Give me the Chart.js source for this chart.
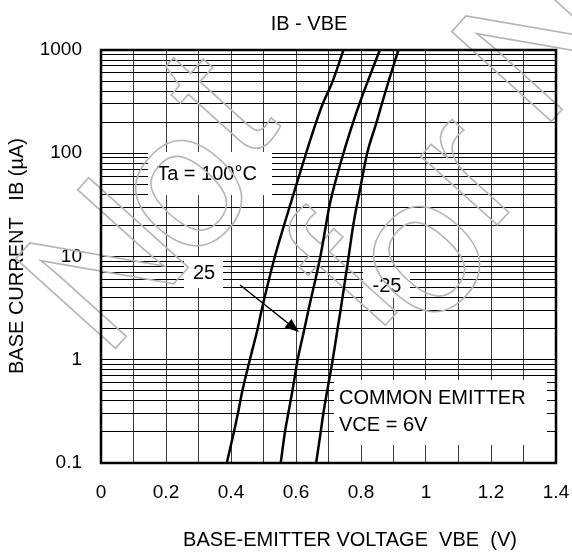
<!DOCTYPE html>
<html>
<head>
<meta charset="utf-8">
<script src="https://cdn.jsdelivr.net/npm/chart.js@4.4.1/dist/chart.umd.min.js"></script>
<style>
html,body{margin:0;padding:0;background:#fff;}
canvas{display:block;}
</style>
</head>
<body>
<canvas id="c" width="572" height="552"></canvas>
<script>
// ---- data ----
const ibValues = [0.1, 0.2, 0.3, 0.5, 1, 2, 3, 10, 20, 30, 40, 100, 200, 300, 500, 1000];   // IB (uA)
const vbeTa100 = [0.387, 0.409, 0.421, 0.435, 0.458, 0.482, 0.494, 0.535, 0.563, 0.580, 0.592, 0.631, 0.662, 0.682, 0.713, 0.746];
const vbeTa25  = [0.553, 0.566, 0.576, 0.589, 0.605, 0.626, 0.638, 0.675, 0.692, 0.702, 0.711, 0.746, 0.776, 0.795, 0.821, 0.858];
const vbeTaM25 = [0.662, 0.676, 0.684, 0.696, 0.713, 0.728, 0.737, 0.762, 0.776, 0.786, 0.794, 0.819, 0.848, 0.864, 0.885, 0.915];
const seriesNames = ['Ta = 100°C', '25', '-25'];
const xTickLabels = ['0', '0.2', '0.4', '0.6', '0.8', '1', '1.2', '1.4'];
const yMajorValues = [0.1, 1, 10, 100, 1000];
const yTickLabels = ['0.1', '1', '10', '100', '1000'];

const FONT = "'Liberation Sans', Arial, sans-serif";

function pts(v) { return v.map((x, i) => ({x: x, y: ibValues[i]})); }

const decorPlugin = {
  id: 'decor',
  beforeDatasetsDraw(chart) {
    const ctx = chart.ctx;
    ctx.save();
    // white label boxes
    ctx.fillStyle = '#fff';
    ctx.fillRect(148, 152, 124, 43);
    ctx.fillRect(184, 257, 39, 31);
    ctx.fillRect(363, 267, 47, 31);
    ctx.fillRect(334, 380, 213, 65);
    ctx.fillStyle = '#000';
    ctx.font = '20px ' + FONT;
    ctx.textBaseline = 'middle';
    ctx.textAlign = 'center';
    ctx.fillText(seriesNames[0], 207, 174);
    ctx.fillText(seriesNames[1], 204, 273);
    ctx.fillText(seriesNames[2], 387, 286);
    ctx.textAlign = 'left';
    ctx.fillText('COMMON EMITTER', 339, 398);
    ctx.fillText('VCE = 6V', 339, 425);
    // titles
    ctx.textAlign = 'center';
    ctx.fillText('IB - VBE', 309, 24);
    ctx.fillText('BASE-EMITTER VOLTAGE  VBE  (V)', 350, 540);
    ctx.save();
    ctx.translate(17, 256);
    ctx.rotate(-Math.PI / 2);
    ctx.fillText('BASE CURRENT   IB (\u00B5A)', 0, 0);
    ctx.restore();
    // arrow
    ctx.strokeStyle = '#000';
    ctx.lineWidth = 1.5;
    const x1 = 240, y1 = 285, x2 = 299, y2 = 332;
    const ang = Math.atan2(y2 - y1, x2 - x1);
    ctx.beginPath();
    ctx.moveTo(x1, y1);
    ctx.lineTo(x2 - 10 * Math.cos(ang), y2 - 10 * Math.sin(ang));
    ctx.stroke();
    ctx.beginPath();
    ctx.moveTo(x2, y2);
    ctx.lineTo(x2 - 14 * Math.cos(ang) + 5.5 * Math.sin(ang), y2 - 14 * Math.sin(ang) - 5.5 * Math.cos(ang));
    ctx.lineTo(x2 - 14 * Math.cos(ang) - 5.5 * Math.sin(ang), y2 - 14 * Math.sin(ang) + 5.5 * Math.cos(ang));
    ctx.closePath();
    ctx.fill();
    // watermark (outlined letters)
    ctx.strokeStyle = '#b5b5b5';
    ctx.lineWidth = 1.6;
    ctx.font = '195px ' + FONT;
    ctx.textAlign = 'center';
    ctx.textBaseline = 'middle';
    const wm = [['N', 112, 272], ['o', 187, 192], ['t', 224, 110], ['f', 352, 282], ['o', 425, 258], ['r', 470, 175], ['N', 548, 45]];
    wm.forEach(([ch, cx, cy]) => {
      ctx.save();
      ctx.translate(cx, cy);
      ctx.rotate(-48 * Math.PI / 180);
      ctx.strokeText(ch, 0, 0);
      ctx.restore();
    });
    ctx.restore();
  },
  afterDatasetsDraw(chart) {
    const a = chart.chartArea, ctx = chart.ctx;
    ctx.save();
    ctx.strokeStyle = '#000';
    ctx.lineWidth = 2.5;
    ctx.strokeRect(a.left, a.top, a.right - a.left, a.bottom - a.top);
    ctx.restore();
  }
};

const lineStyle = {borderColor: '#000', borderWidth: 2.5, pointRadius: 0, showLine: true, cubicInterpolationMode: 'monotone', fill: false};

function noPad(s) { s.paddingLeft = 0; s.paddingRight = 0; s.paddingTop = 0; s.paddingBottom = 0; }

new Chart(document.getElementById('c'), {
  type: 'scatter',
  data: {
    datasets: [
      Object.assign({label: seriesNames[0], data: pts(vbeTa100)}, lineStyle),
      Object.assign({label: seriesNames[1], data: pts(vbeTa25)}, lineStyle),
      Object.assign({label: seriesNames[2], data: pts(vbeTaM25)}, lineStyle)
    ]
  },
  options: {
    responsive: false,
    animation: false,
    devicePixelRatio: 1,
    layout: {padding: {left: 0, right: 16, top: 50, bottom: 0}},
    plugins: {legend: {display: false}, tooltip: {enabled: false}, title: {display: false}},
    scales: {
      x: {
        type: 'linear', min: 0, max: 1.4,
        ticks: {
          stepSize: 0.1, color: '#000', padding: 18, maxRotation: 0, autoSkip: false,
          font: {family: FONT, size: 19},
          callback: (v, i) => (i % 2 === 0 ? xTickLabels[i / 2] : '')
        },
        grid: {color: '#3a3a3a', lineWidth: 1, drawTicks: false},
        border: {display: false},
        afterFit: s => { s.height = 89; noPad(s); }
      },
      y: {
        type: 'logarithmic', min: 0.1, max: 1000,
        afterBuildTicks: s => {
          const t = [];
          for (let e = -1; e <= 2; e++) {
            for (let m = 1; m <= 9; m++) t.push({value: +(m * Math.pow(10, e)).toPrecision(3)});
          }
          t.push({value: 1000});
          s.ticks = t;
        },
        ticks: {
          color: '#000', padding: 19, autoSkip: false,
          font: {family: FONT, size: 19},
          callback: v => {
            const k = yMajorValues.findIndex(m => Math.abs(m - v) < 1e-9 * Math.max(1, v));
            return k >= 0 ? yTickLabels[k] : '';
          }
        },
        grid: {color: '#000', lineWidth: 1, drawTicks: false},
        border: {display: false},
        afterFit: s => { s.width = 101; noPad(s); }
      }
    }
  },
  plugins: [decorPlugin]
});
</script>
</body>
</html>
